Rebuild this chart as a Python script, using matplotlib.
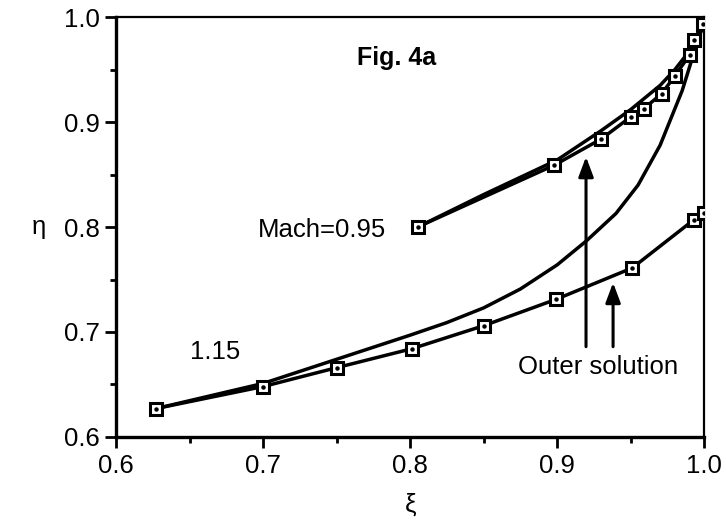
import matplotlib
matplotlib.use("Agg")
import matplotlib.pyplot as plt
from matplotlib.ticker import MultipleLocator

plt.rcParams['font.family'] = ['Liberation Sans', 'DejaVu Sans']

# Mach = 0.95: computed solution (squares) and outer solution (plain line)
xi_m095 = [0.805, 0.898, 0.930, 0.950, 0.959, 0.971, 0.980, 0.990, 0.993, 0.999]
eta_m095 = [0.800, 0.859, 0.884, 0.905, 0.913, 0.927, 0.944, 0.964, 0.978, 0.994]
xi_m095_outer = [0.805, 0.850, 0.900, 0.930, 0.950, 0.970, 0.980, 0.990, 1.000]
eta_m095_outer = [0.800, 0.831, 0.864, 0.892, 0.912, 0.935, 0.950, 0.968, 0.995]

# Mach = 1.15: computed solution (squares) and outer solution (plain line)
xi_m115 = [0.627, 0.700, 0.750, 0.801, 0.850, 0.899, 0.951, 0.993, 1.000]
eta_m115 = [0.627, 0.648, 0.666, 0.684, 0.706, 0.731, 0.761, 0.807, 0.813]
xi_m115_outer = [0.627, 0.700, 0.750, 0.800, 0.825, 0.850, 0.875, 0.900,
                 0.920, 0.940, 0.955, 0.970, 0.985, 0.995, 1.000]
eta_m115_outer = [0.627, 0.651, 0.674, 0.697, 0.709, 0.723, 0.741, 0.764,
                  0.787, 0.813, 0.840, 0.878, 0.930, 0.975, 0.995]

# arrows pointing at the outer-solution curves
arrow_x = [0.9196, 0.938]
arrow_tip = [0.867, 0.747]
arrow_base = 0.686

xticks = [0.6, 0.7, 0.8, 0.9, 1.0]
yticks = [0.6, 0.7, 0.8, 0.9, 1.0]

fig = plt.figure(figsize=(7.26, 5.22), dpi=100)
ax = fig.add_axes([0.160, 0.163, 0.810, 0.804])

lw = 2.5
ax.plot(xi_m095_outer, eta_m095_outer, color='black', lw=lw, zorder=2)
ax.plot(xi_m115_outer, eta_m115_outer, color='black', lw=lw, zorder=2)
for xs, ys in [(xi_m095, eta_m095), (xi_m115, eta_m115)]:
    ax.plot(xs, ys, color='black', lw=lw, marker='s', markersize=8,
            markerfacecolor='white', markeredgecolor='black',
            markeredgewidth=2.2, zorder=3)
    ax.plot(xs, ys, ls='none', marker='o', markersize=2.2,
            color='black', zorder=4)

for x, tip in zip(arrow_x, arrow_tip):
    ax.annotate('', xy=(x, tip), xytext=(x, arrow_base),
                arrowprops=dict(arrowstyle='-|>,head_length=1.2,head_width=0.45',
                                color='black', lw=2.2, shrinkA=0, shrinkB=0),
                zorder=5)

fs = 18.5
ax.text(0.928, 0.667, 'Outer solution', fontsize=fs, ha='center', va='center')
ax.text(0.7833, 0.797, 'Mach=0.95', fontsize=fs, ha='right', va='center')
ax.text(0.6675, 0.681, '1.15', fontsize=fs, ha='center', va='center')
ax.text(0.791, 0.961, 'Fig. 4a', fontsize=18, fontweight='bold',
        ha='center', va='center')

ax.set_xlim(0.6, 1.0)
ax.set_ylim(0.6, 1.0)
ax.set_xticks(xticks)
ax.set_yticks(yticks)
ax.set_xticklabels([f'{v:.1f}' for v in xticks])
ax.set_yticklabels([f'{v:.1f}' for v in yticks])
ax.xaxis.set_minor_locator(MultipleLocator(0.05))
ax.yaxis.set_minor_locator(MultipleLocator(0.05))
ax.tick_params(which='major', direction='out', length=8, width=2,
               labelsize=fs, pad=4)
ax.tick_params(which='minor', direction='out', length=4, width=2)

for side in ['left', 'bottom']:
    ax.spines[side].set_linewidth(2.4)
for side in ['top', 'right']:
    ax.spines[side].set_linewidth(1.6)

ax.set_xlabel('ξ', fontsize=fs, labelpad=11)
ax.set_ylabel('η', fontsize=fs, rotation=0, labelpad=18, va='center')

fig.savefig('out.png', dpi=100)
